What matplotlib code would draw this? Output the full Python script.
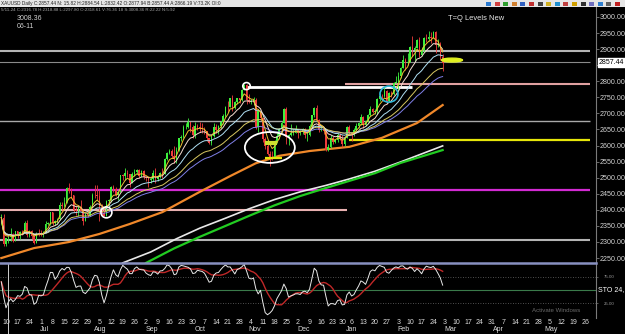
import numpy as np
import pandas as pd
import matplotlib
matplotlib.use('Agg')
import matplotlib.pyplot as plt
import matplotlib.transforms as mtrans
from matplotlib.patches import Ellipse

# -----------------------------------
# data (XAUUSD daily)
# -----------------------------------
start_day = '2024-06-06'
axis_end = '2025-05-30'
closed_days = ['2024-12-25', '2025-01-01']
first_open = 2355.0

closes = [
    2376, 2294,
    2311, 2316, 2324, 2304, 2333,
    2319, 2330, 2328, 2360, 2322,
    2334, 2320, 2298, 2327, 2326,
    2325, 2330, 2356, 2356, 2392,
    2359, 2364, 2371, 2415, 2411,
    2422, 2469, 2459, 2445, 2400,
    2396, 2409, 2397, 2364, 2387,
    2384, 2410, 2447, 2446, 2443,
    2410, 2390, 2382, 2427, 2431,
    2472, 2465, 2447, 2456, 2507,
    2504, 2514, 2512, 2484, 2512,
    2518, 2524, 2504, 2521, 2503,
    2500, 2493, 2495, 2516, 2497,
    2506, 2516, 2512, 2558, 2578,
    2582, 2569, 2559, 2587, 2622,
    2628, 2657, 2657, 2672, 2658,
    2634, 2662, 2657, 2656, 2653,
    2644, 2622, 2608, 2631, 2657,
    2649, 2662, 2674, 2692, 2721,
    2719, 2748, 2716, 2736, 2747,
    2742, 2774, 2788, 2743, 2736,
    2736, 2743, 2659, 2706, 2685,
    2619, 2598, 2573, 2565, 2563,
    2611, 2631, 2650, 2670, 2715,
    2626, 2632, 2638, 2640, 2650,
    2640, 2643, 2650, 2632, 2633,
    2660, 2694, 2718, 2680, 2648,
    2652, 2646, 2586, 2594, 2622,
    2612, 2617, 2634, 2621,
    2606, 2624, 2658, 2640,
    2636, 2648, 2661, 2670, 2689,
    2663, 2677, 2696, 2715, 2703,
    2708, 2745, 2755, 2754, 2770,
    2740, 2763, 2760, 2794, 2798,
    2815, 2842, 2866, 2856, 2861,
    2908, 2897, 2904, 2928, 2882,
    2898, 2935, 2933, 2939, 2936,
    2952, 2914, 2916, 2875, 2857.44,
]
highs = [
    2388, 2387,
    2313, 2318, 2342, 2328, 2335,
    2335, 2335, 2336, 2365, 2368,
    2337, 2337, 2325, 2332, 2339,
    2337, 2334, 2365, 2362, 2393,
    2393, 2368, 2375, 2424, 2425,
    2440, 2470, 2483, 2468, 2445,
    2412, 2411, 2431, 2404, 2390,
    2391, 2414, 2451, 2477, 2477,
    2461, 2418, 2404, 2432, 2434,
    2474, 2477, 2471, 2462, 2509,
    2510, 2531, 2524, 2512, 2517,
    2528, 2527, 2526, 2525, 2524,
    2505, 2503, 2503, 2524, 2529,
    2508, 2518, 2529, 2560, 2581,
    2590, 2589, 2600, 2595, 2625,
    2634, 2664, 2670, 2685, 2674,
    2665, 2673, 2666, 2672, 2670,
    2657, 2645, 2624, 2634, 2670,
    2666, 2665, 2677, 2697, 2722,
    2740, 2749, 2758, 2738, 2749,
    2748, 2775, 2790, 2790, 2759,
    2746, 2750, 2749, 2711, 2709,
    2686, 2628, 2618, 2582, 2583,
    2616, 2639, 2656, 2675, 2716,
    2721, 2636, 2666, 2650, 2665,
    2650, 2649, 2656, 2656, 2644,
    2668, 2696, 2721, 2726, 2684,
    2664, 2654, 2653, 2605, 2632,
    2630, 2621, 2638, 2638,
    2633, 2628, 2661, 2665,
    2643, 2655, 2670, 2673, 2697,
    2691, 2680, 2699, 2724, 2718,
    2713, 2747, 2763, 2759, 2785,
    2772, 2766, 2769, 2799, 2817,
    2830, 2845, 2882, 2872, 2887,
    2911, 2942, 2910, 2933, 2938,
    2906, 2938, 2947, 2955, 2954,
    2956, 2955, 2932, 2922, 2884.54,
]
lows = [
    2353, 2287,
    2286, 2298, 2303, 2301, 2302,
    2311, 2308, 2322, 2327, 2317,
    2316, 2310, 2294, 2298, 2319,
    2318, 2315, 2328, 2353, 2353,
    2353, 2353, 2358, 2368, 2400,
    2410, 2421, 2451, 2437, 2393,
    2385, 2382, 2395, 2353, 2365,
    2377, 2381, 2410, 2436, 2431,
    2364, 2384, 2380, 2382, 2410,
    2425, 2455, 2444, 2431, 2454,
    2492, 2494, 2503, 2471, 2483,
    2504, 2511, 2499, 2501, 2496,
    2490, 2472, 2485, 2491, 2485,
    2491, 2500, 2500, 2510, 2554,
    2574, 2562, 2547, 2546, 2584,
    2614, 2624, 2651, 2655, 2643,
    2625, 2624, 2647, 2641, 2640,
    2635, 2615, 2605, 2603, 2626,
    2640, 2637, 2655, 2666, 2689,
    2704, 2719, 2708, 2715, 2729,
    2731, 2739, 2772, 2730, 2731,
    2729, 2725, 2652, 2643, 2680,
    2610, 2589, 2572, 2537, 2555,
    2560, 2607, 2621, 2643, 2669,
    2605, 2603, 2630, 2632, 2640,
    2622, 2632, 2635, 2625, 2613,
    2631, 2657, 2689, 2677, 2643,
    2645, 2637, 2583, 2583, 2591,
    2604, 2609, 2612, 2616,
    2597, 2598, 2624, 2635,
    2614, 2631, 2643, 2655, 2664,
    2656, 2660, 2673, 2693, 2700,
    2697, 2697, 2738, 2741, 2751,
    2730, 2739, 2751, 2758, 2795,
    2771, 2809, 2841, 2834, 2852,
    2860, 2880, 2864, 2903, 2877,
    2880, 2892, 2923, 2925, 2918,
    2936, 2889, 2906, 2865, 2832.42,
]

# slow averages read as sample points
orange_dates = ['2024-06-06', '2024-06-26', '2024-07-17', '2024-08-05', '2024-08-22',
                '2024-09-11', '2024-10-03', '2024-10-22', '2024-11-06', '2024-11-20',
                '2024-12-09', '2025-01-03', '2025-01-23', '2025-02-13', '2025-02-28']
orange_vals = [2250, 2281, 2300, 2325, 2356, 2393, 2456, 2505, 2545, 2568,
               2583, 2596, 2624, 2670, 2726]
white_dates = ['2024-08-19', '2024-09-04', '2024-09-19', '2024-10-03', '2024-10-18',
               '2024-11-01', '2024-11-18', '2024-12-03', '2024-12-18', '2025-01-03',
               '2025-01-20', '2025-02-04', '2025-02-28']
white_vals = [2235, 2269, 2310, 2343, 2374, 2403, 2432, 2456, 2476, 2496,
              2520, 2549, 2599]
green_dates = ['2024-09-02', '2024-09-18', '2024-10-03', '2024-10-18', '2024-11-01',
               '2024-11-18', '2024-12-03', '2024-12-18', '2025-01-03', '2025-01-20',
               '2025-02-04', '2025-02-28']
green_vals = [2235, 2280, 2316, 2350, 2381, 2414, 2443, 2468, 2490, 2514, 2546, 2586]

# horizontal levels: price, from, to, colour, width
lvl_price = [2895, 2860, 2677, 2461, 2305, 2790, 2782, 2617, 2398]
lvl_from = ['2024-06-06', '2024-06-06', '2024-06-06', '2024-06-06', '2024-06-06',
            '2024-12-31', '2024-10-31', '2025-01-03', '2024-06-06']
lvl_to = ['2025-05-28', '2025-05-28', '2025-05-28', '2025-05-28', '2025-05-28',
          '2025-05-28', '2025-02-11', '2025-05-28', '2025-01-02']
lvl_color = ['#b4b4b4', '#8a8a8a', '#a8a8a8', '#d22ad2', '#b4b4b4',
             '#e0a0a0', '#ffffff', '#e6e60a', '#e8b0b0']
lvl_width = [1.5, 0.8, 1.0, 1.6, 1.5, 1.5, 2.0, 1.6, 1.5]

# -----------------------------------
# calendar
# -----------------------------------
cal = pd.bdate_range(start_day, axis_end)
cal = cal[~cal.isin(pd.to_datetime(closed_days))]
n = len(closes)
xs = np.arange(n)
c = np.array(closes, float)
h = np.array(highs, float)
l = np.array(lows, float)
o = np.r_[first_open, c[:-1]]


def pos(d):
    return cal.get_loc(pd.Timestamp(d))


s = pd.Series(c)
ema5 = s.ewm(span=5).mean()
ema10 = s.ewm(span=10).mean()
ema20 = s.ewm(span=20).mean()
ema34 = s.ewm(span=34).mean()
ema45 = s.ewm(span=45).mean()

# stochastic
hh = pd.Series(h).rolling(24, min_periods=1).max()
ll = pd.Series(l).rolling(24, min_periods=1).min()
k_raw = 100 * (s - ll) / (hh - ll)
sto_k = k_raw.rolling(2, min_periods=1).mean()
sto_d = sto_k.rolling(9, min_periods=1).mean()

# -----------------------------------
# figure
# -----------------------------------
W, H = 625, 334
fig = plt.figure(figsize=(W / 100, H / 100), dpi=100, facecolor='black')
nar = ['Liberation Sans', 'DejaVu Sans']


def box(x0, y0, x1, y1):
    return [x0 / W, 1 - y1 / H, (x1 - x0) / W, (y1 - y0) / H]


ax = fig.add_axes(box(0, 7, 596, 263))
ax2 = fig.add_axes(box(0, 263, 596, 318), sharex=ax)
for a in (ax, ax2):
    a.set_facecolor('black')
    for sp in ('top', 'left', 'bottom'):
        a.spines[sp].set_visible(False)
    a.spines['right'].set_color('#7a7a7a')
    a.spines['right'].set_linewidth(0.8)
    a.yaxis.tick_right()

px = 2.335
x0 = -0.57
ax.set_xlim(x0, x0 + 596 / px)
ax.set_ylim(2234.6, 3031.1)

# levels
for p, f, t, col, lw in zip(lvl_price, lvl_from, lvl_to, lvl_color, lvl_width):
    ax.hlines(p, pos(f) - 3 if f == start_day else pos(f), pos(t), colors=col, lw=lw, zorder=1)

# slow averages
ax.plot([pos(d) for d in orange_dates], orange_vals, color='#f0882a', lw=1.6, zorder=2)
ax.plot([pos(d) for d in white_dates], white_vals, color='#e8e8e8', lw=1.2, zorder=2)
ax.plot([pos(d) for d in green_dates], green_vals, color='#22cc22', lw=1.6, zorder=2)

# candles
up = c >= o
col = np.where(up, '#3cf03c', '#f03c3c')
ax.vlines(xs, l, h, colors=col, lw=0.6, zorder=3)
ax.bar(xs, np.maximum(np.abs(c - o), 1.5), bottom=np.minimum(o, c), width=0.66,
       color=col, lw=0, zorder=3)

# fast averages
ax.plot(xs, ema45, color='#8080e8', lw=0.7, zorder=4)
ax.plot(xs, ema34, color='#d8c860', lw=0.7, zorder=4)
ax.plot(xs, ema20, color='#b0e0f4', lw=0.7, zorder=4)
ax.plot(xs, ema10, color='#f4dcd0', lw=0.7, zorder=4)
ax.plot(xs, ema5, color='#f0c030', lw=0.7, zorder=4)

# drawn marks
ax.add_patch(Ellipse((pos('2024-11-14'), 2594), 21.4, 96, fill=False, ec='white', lw=1.3, zorder=5))
ax.add_patch(Ellipse((pos('2024-10-31'), 2785), 3.2, 22, fill=False, ec='white', lw=1.2, zorder=5))
ax.add_patch(Ellipse((pos('2024-08-08'), 2392), 4.7, 34, fill=False, ec='white', lw=1.2, zorder=5))
ax.add_patch(Ellipse((pos('2025-01-28'), 2760), 7.7, 50, fill=False, ec='#30b8d8', lw=1.2, zorder=5))
ax.hlines(2608, pos('2024-11-12'), pos('2024-11-19'), colors='#d0e030', lw=3.0, zorder=5)
ax.hlines(2561, pos('2024-11-12'), pos('2024-11-21'), colors='#e6e60a', lw=1.6, zorder=5)
ax.add_patch(Ellipse((pos('2025-02-28') + 4, 2866), 9, 12, color='#e0f020', zorder=5))

# price axis (2850 label hidden by the last-price box)
ticks = np.arange(2250, 3001, 50)
ax.set_yticks(ticks)
ax.set_yticklabels(['' if v == 2850 else f'{v:.2f}' for v in ticks], family=nar)
ax.tick_params(axis='y', colors='#7a7a7a', labelcolor='#d4d4d4', labelsize=5.1,
               length=2, width=0.6, pad=0.6)
ax.tick_params(axis='x', bottom=False, labelbottom=False)
tr = mtrans.blended_transform_factory(ax.transAxes, ax.transData)
ax.text(1.005, closes[-1], f'{closes[-1]:.2f}', transform=tr, ha='left', va='center',
        fontsize=5.0, family=nar, color='black',
        bbox=dict(boxstyle='square,pad=0.12', fc='white', ec='white'))

# stochastic panel
ax2.set_ylim(-3.8, 101.9)
ax2.axhline(75, color='#6a6a6a', lw=0.6, ls=(0, (1, 2)))
ax2.axhline(25, color='#6a6a6a', lw=0.6, ls=(0, (1, 2)))
ax2.axhline(50, color='#3a7a4a', lw=0.8)
ax2.plot(xs, sto_d, color='#c02828', lw=1.0)
ax2.plot(xs, sto_k, color='#e8e8e8', lw=0.7)
ax2.axvline(pos('2024-06-11'), ymin=-0.3, ymax=1, color='#d0d0d0', lw=0.7, clip_on=False)
ax2.spines['top'].set_visible(True)
ax2.spines['top'].set_color('#8890c0')
ax2.spines['top'].set_linewidth(1.8)
ax2.spines['top'].set_linestyle((0, (1, 1)))
ax2.set_yticks([25, 75])
ax2.set_yticklabels(['25.00', '75.00'], family=nar)
ax2.tick_params(axis='y', colors='#7a7a7a', labelcolor='#9a9a9a', labelsize=3.2,
                length=1.5, width=0.5, pad=4)
ax2.text(1.004, 50, 'STO 24,', transform=mtrans.blended_transform_factory(ax2.transAxes, ax2.transData),
         ha='left', va='center', fontsize=5.0, family=nar, color='white', clip_on=False)

# date axis
mondays = [i for i, d in enumerate(cal) if d.weekday() == 0]
ax2.set_xticks(mondays)
ax2.set_xticklabels([str(cal[i].day) for i in mondays], family=nar)
ax2.tick_params(axis='x', length=0, pad=0.8, labelsize=5.0, labelcolor='#dcdcdc')
month_first = [i for i in range(1, len(cal)) if cal[i].month != cal[i - 1].month]
trm = mtrans.blended_transform_factory(ax2.transData, ax2.transAxes)
for i in month_first:
    ax2.text(i - 0.3, -0.215, cal[i].strftime('%b'), transform=trm, ha='left', va='center',
             fontsize=5.0, family=nar, color='#dcdcdc', clip_on=False)

# header and captions
fig.patches.append(plt.Rectangle((0, 1 - 6.7 / H), 1, 6.7 / H, transform=fig.transFigure,
                                 fc='#e6e6e6', ec='none'))
fig.text(1 / W, 1 - 3.4 / H,
         'XAUUSD Daily C:2857.44 N: 15.82 H:2884.54 L:2832.42 O:2877.94 B:2857.44 A:2866.19 V:73.2K OI:0',
         fontsize=3.4, family=nar, color='#202020', va='center')
fig.text(1 / W, 1 - 10 / H,
         '5/11-24 C:2316.78 H:2318.88 L:2297.80 O:2318.61 V:76.36 18 S:3008.36 R:22.22 N:5:92',
         fontsize=3.2, family=nar, color='#a8a8a8', va='center')
fig.text(17 / W, 1 - 19 / H, '3008.36', fontsize=5.0, family=nar, color='#cfcfcf', va='center')
fig.text(17 / W, 1 - 26.5 / H, '06-11', fontsize=5.0, family=nar, color='#cfcfcf', va='center')
fig.text(476 / W, 1 - 18 / H, 'T=Q Levels New', fontsize=5.4, family=nar, color='#e8e8e8',
         ha='center', va='center')
fig.text(556 / W, 1 - 311 / H, 'Activate Windows', fontsize=4.4, family=nar, color='#6a6a6a',
         ha='center', va='center')

icon_cols = ['#2a7ad0', '#d04040', '#30a030', '#d08030', '#3060c0', '#c03030', '#404040',
             '#d0b020', '#2090d0', '#c04040', '#d0a000', '#303030', '#7070c0', '#3080d0',
             '#606060', '#c02020']
for j, ic in enumerate(icon_cols):
    fig.patches.append(plt.Rectangle(((486 + j * 8.6) / W, 1 - 5.5 / H), 5 / W, 4 / H,
                                     transform=fig.transFigure, fc=ic, ec='none'))

fig.savefig('out.png', dpi=100, facecolor='black')
